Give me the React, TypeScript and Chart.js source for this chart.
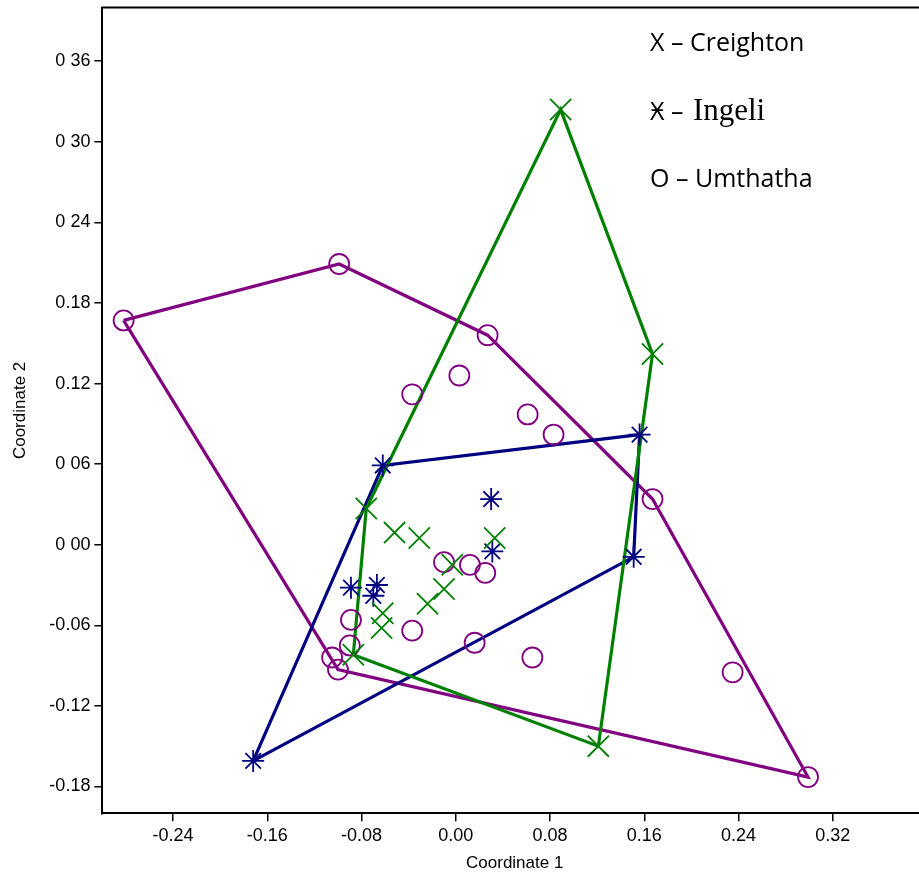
import React, { useEffect, useRef } from "react";
import { Chart, registerables } from "chart.js";

Chart.register(...registerables);

// ---- Data (Coordinate 1 / Coordinate 2) ----
const creightonX = [0.089, 0.167, 0.121, -0.087, -0.076, -0.052, -0.031, 0.033, -0.003, -0.010, -0.024, -0.062, -0.063];
const creightonY = [0.324, 0.142, -0.150, -0.082, 0.027, 0.009, 0.005, 0.005, -0.015, -0.033, -0.044, -0.051, -0.062];

const ingeliX = [0.156, 0.151, -0.172, -0.062, 0.030, 0.031, -0.089, -0.067, -0.070];
const ingeliY = [0.082, -0.009, -0.161, 0.059, 0.034, -0.005, -0.032, -0.030, -0.038];

const umthathaX = [-0.282, -0.099, 0.027, 0.167, 0.299, -0.100, -0.105, -0.090, -0.089, -0.037, 0.016, -0.010, 0.012, 0.025, -0.037, 0.003, 0.061, 0.083, 0.065, 0.235];
const umthathaY = [0.167, 0.209, 0.156, 0.034, -0.173, -0.093, -0.084, -0.075, -0.056, -0.064, -0.073, -0.013, -0.015, -0.021, 0.112, 0.126, 0.097, 0.082, -0.084, -0.095];

const xTickValues = [-0.24, -0.16, -0.08, 0.0, 0.08, 0.16, 0.24, 0.32];
const xTickLabels = ["-0.24", "-0.16", "-0.08", "0.00", "0.08", "0.16", "0.24", "0.32"];
const yTickValues = [-0.18, -0.12, -0.06, 0.0, 0.06, 0.12, 0.18, 0.24, 0.3, 0.36];
const yTickLabels = ["-0.18", "-0.12", "-0.06", "0 00", "0 06", "0.12", "0.18", "0 24", "0 30", "0 36"];

const groupNames = ["Creighton", "Ingeli", "Umthatha"];
const groupSymbols = ["X", "\u04FE", "O"];
const groupColors = ["#008000", "#000080", "#800080"];

type P = { x: number; y: number };

function toPoints(xs: number[], ys: number[]): P[] {
  return xs.map((x, i) => ({ x, y: ys[i] }));
}

function convexHull(pts: P[]): P[] {
  const p = [...pts].sort((a, b) => (a.x === b.x ? a.y - b.y : a.x - b.x));
  const cross = (o: P, a: P, b: P) => (a.x - o.x) * (b.y - o.y) - (a.y - o.y) * (b.x - o.x);
  const lower: P[] = [];
  for (const q of p) {
    while (lower.length >= 2 && cross(lower[lower.length - 2], lower[lower.length - 1], q) <= 0) lower.pop();
    lower.push(q);
  }
  const upper: P[] = [];
  for (let i = p.length - 1; i >= 0; i--) {
    const q = p[i];
    while (upper.length >= 2 && cross(upper[upper.length - 2], upper[upper.length - 1], q) <= 0) upper.pop();
    upper.push(q);
  }
  lower.pop();
  upper.pop();
  const h = lower.concat(upper);
  return h.concat([h[0]]);
}

const overlayPlugin = {
  id: "overlayPlugin",
  afterDraw(chart: any) {
    const { ctx, chartArea } = chart;
    ctx.save();
    // top frame line
    ctx.strokeStyle = "#000";
    ctx.lineWidth = 2;
    ctx.beginPath();
    ctx.moveTo(chartArea.left - 1, chartArea.top);
    ctx.lineTo(chartArea.right + 20, chartArea.top);
    ctx.stroke();

    // text legend
    ctx.fillStyle = "#000";
    ctx.textAlign = "left";
    ctx.textBaseline = "alphabetic";
    const lx = 650;
    const baselines = [51, 120, 187];
    groupNames.forEach((name, i) => {
      ctx.font = "25px 'Open Sans'";
      const prefix = groupSymbols[i] + " \u2013 ";
      ctx.fillText(prefix, lx, baselines[i]);
      const w = ctx.measureText(prefix).width;
      if (name === "Ingeli") {
        ctx.font = "31px 'Liberation Serif'";
      }
      ctx.fillText(name, lx + w + (name === "Ingeli" ? 3 : 0), baselines[i]);
    });
    ctx.restore();
  },
};

export default function App() {
  const canvasRef = useRef<HTMLCanvasElement | null>(null);

  useEffect(() => {
    const canvas = canvasRef.current;
    if (!canvas) return;

    const groups = [
      toPoints(creightonX, creightonY),
      toPoints(ingeliX, ingeliY),
      toPoints(umthathaX, umthathaY),
    ];
    const styles = ["crossRot", "star", "circle"];
    const radii = [15, 11, 10];

    const hullSets = groups.map((g, i) => ({
      label: groupNames[i] + " hull",
      data: convexHull(g),
      showLine: true,
      borderColor: groupColors[i],
      borderWidth: 3.2,
      pointRadius: 0,
      pointHoverRadius: 0,
      fill: false,
      tension: 0,
      order: 2,
    }));

    const pointSets = groups.map((g, i) => ({
      label: groupNames[i],
      data: g,
      showLine: false,
      pointStyle: styles[i],
      pointRadius: radii[i],
      pointHoverRadius: radii[i],
      pointBorderColor: groupColors[i],
      pointBackgroundColor: "rgba(0,0,0,0)",
      pointBorderWidth: 1.8,
      order: 1,
    }));

    const xTickFont = { family: "'Liberation Sans', Arial, sans-serif", size: 18 };
    const yTickFont = { family: "'Liberation Sans', Arial, sans-serif", size: 18 };
    const titleFont = { family: "'Liberation Sans', Arial, sans-serif", size: 17 };

    const chart = new Chart(canvas, {
      type: "scatter",
      data: { datasets: [...hullSets, ...pointSets] as any },
      plugins: [overlayPlugin],
      options: {
        responsive: false,
        animation: false,
        devicePixelRatio: 1,
        layout: { autoPadding: false, padding: { top: 7.5, right: 13, bottom: 0, left: 0 } },
        plugins: {
          legend: { display: false },
          tooltip: { enabled: false },
        },
        scales: {
          x: {
            type: "linear",
            position: "bottom",
            min: -0.3,
            max: 0.4,
            afterBuildTicks: (s: any) => {
              s.ticks = xTickValues.map((v) => ({ value: v }));
            },
            afterFit: (s: any) => {
              s.height = 65.7;
              s.paddingLeft = 0;
              s.paddingRight = 0;
            },
            ticks: {
              callback: (_v: any, i: number) => xTickLabels[i],
              font: xTickFont,
              color: "#000",
              padding: 4,
              autoSkip: false,
              maxRotation: 0,
            },
            grid: {
              display: true,
              drawOnChartArea: false,
              drawTicks: true,
              tickLength: 8,
              color: "#000",
              lineWidth: 1.5,
            },
            border: { display: true, color: "#000", width: 2 },
            title: {
              display: true,
              text: "Coordinate 1",
              font: titleFont,
              color: "#000",
              padding: { top: 0, bottom: 5 },
            },
          },
          y: {
            type: "linear",
            position: "left",
            min: -0.2,
            max: 0.4,
            afterBuildTicks: (s: any) => {
              s.ticks = yTickValues.map((v) => ({ value: v }));
            },
            afterFit: (s: any) => {
              s.width = 102.4;
              s.paddingTop = 0;
              s.paddingBottom = 0;
            },
            ticks: {
              callback: (_v: any, i: number) => yTickLabels[i],
              font: yTickFont,
              color: "#000",
              padding: 4,
              autoSkip: false,
            },
            grid: {
              display: true,
              drawOnChartArea: false,
              drawTicks: true,
              tickLength: 8,
              color: "#000",
              lineWidth: 1.5,
            },
            border: { display: true, color: "#000", width: 2 },
            title: {
              display: true,
              text: "Coordinate 2",
              font: titleFont,
              color: "#000",
              padding: { top: 10, bottom: 0 },
            },
          },
        },
      } as any,
    });

    return () => chart.destroy();
  }, []);

  return (
    <div
      style={{
        position: "absolute",
        left: 0,
        top: 0,
        width: 919,
        height: 879,
        overflow: "hidden",
        background: "#fff",
      }}
    >
      <canvas ref={canvasRef} width={940} height={879} style={{ display: "block", width: 940, height: 879 }} />
    </div>
  );
}
